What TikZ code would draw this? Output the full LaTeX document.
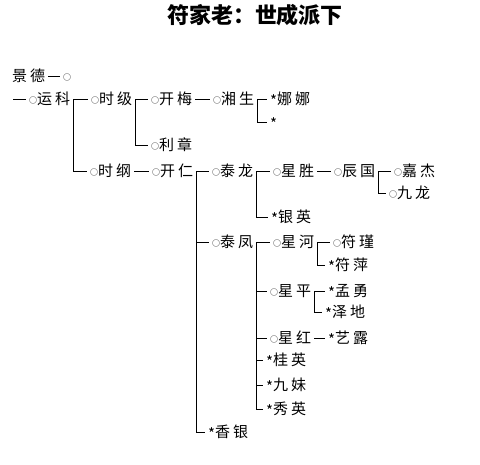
\documentclass[tikz,border=0pt]{standalone}
\usepackage{fontspec}
\newfontfamily\cjk[LetterSpace=20]{Noto Sans CJK SC}
\newfontfamily\cjktitle{Noto Sans CJK SC}
\newcommand{\quan}{\raisebox{1pt}{\fontsize{8}{8}\selectfont ○}}
\newcommand{\xing}{\raisebox{-2pt}{*}}
\begin{document}
\begin{tikzpicture}[x=1pt,y=-1pt]
\tikzstyle{every node}+=[inner xsep=3pt, inner ysep=0pt, text height=13pt, text depth=2pt, anchor=west, font=\cjk\fontsize{15}{15}\selectfont]
\useasboundingbox (0,0) rectangle (480,464);
\node [anchor=center, font=\cjktitle\bfseries\fontsize{22}{22}\selectfont] (title) at (255,18) {符家老：世成派下};
\node (jingde) at (9,76) {景德};
\node (jdring) at (60,76) {\quan};
\coordinate (start) at (13,99);
\node (yunke) at (26,99) {\quan 运科};
\node (shiji) at (88,99) {\quan 时级};
\node (kaimei) at (148,99) {\quan 开梅};
\node (xiangsheng) at (210,99) {\quan 湘生};
\node (nana) at (267,99) {\xing 娜娜};
\node (blank) at (267,122) {\xing};
\node (lizhang) at (148,145) {\quan 利章};
\node (shigang) at (87,171) {\quan 时纲};
\node (kairen) at (149,171) {\quan 开仁};
\node (tailong) at (209,171) {\quan 泰龙};
\node (xingsheng) at (270,171) {\quan 星胜};
\node (chenguo) at (331,171) {\quan 辰国};
\node (jiajie) at (391,171) {\quan 嘉杰};
\node (jiulong) at (386,193) {\quan 九龙};
\node (yinying) at (268,217) {\xing 银英};
\node (taifeng) at (209,242) {\quan 泰凤};
\node (xinghe) at (270,242) {\quan 星河};
\node (fujin) at (330,242) {\quan 符瑾};
\node (fuping) at (325,265) {\xing 符萍};
\node (xingping) at (267,291) {\quan 星平};
\node (mengyong) at (325,291) {\xing 孟勇};
\node (zedi) at (322,312) {\xing 泽地};
\node (xinghong) at (267,338) {\quan 星红};
\node (yilu) at (325,338) {\xing 艺露};
\node (guiying) at (263,360) {\xing 桂英};
\node (jiumei) at (263,385) {\xing 九妹};
\node (xiuying) at (263,409) {\xing 秀英};
\node (xiangyin) at (205,432) {\xing 香银};
% branches
\draw [black, line width=0.8pt] (jingde) -- (jdring);
\draw [black, line width=0.8pt] (start) -- (yunke);
\draw [black, line width=0.8pt] (yunke) -- (shiji);
\draw [black, line width=0.8pt] (yunke.east) |- (shigang);
\draw [black, line width=0.8pt] (shiji) -- (kaimei);
\draw [black, line width=0.8pt] (shiji.east) |- (lizhang);
\draw [black, line width=0.8pt] (kaimei) -- (xiangsheng);
\draw [black, line width=0.8pt] (xiangsheng) -- (nana);
\draw [black, line width=0.8pt] (xiangsheng.east) |- (blank);
\draw [black, line width=0.8pt] (shigang) -- (kairen);
\draw [black, line width=0.8pt] (kairen) -- (tailong);
\draw [black, line width=0.8pt] (kairen.east) |- (taifeng);
\draw [black, line width=0.8pt] (kairen.east) |- (xiangyin);
\draw [black, line width=0.8pt] (tailong) -- (xingsheng);
\draw [black, line width=0.8pt] (tailong.east) |- (yinying);
\draw [black, line width=0.8pt] (xingsheng) -- (chenguo);
\draw [black, line width=0.8pt] (chenguo) -- (jiajie);
\draw [black, line width=0.8pt] (chenguo.east) |- (jiulong);
\draw [black, line width=0.8pt] (taifeng) -- (xinghe);
\draw [black, line width=0.8pt] (taifeng.east) |- (xingping);
\draw [black, line width=0.8pt] (taifeng.east) |- (xinghong);
\draw [black, line width=0.8pt] (taifeng.east) |- (guiying);
\draw [black, line width=0.8pt] (taifeng.east) |- (jiumei);
\draw [black, line width=0.8pt] (taifeng.east) |- (xiuying);
\draw [black, line width=0.8pt] (xinghe) -- (fujin);
\draw [black, line width=0.8pt] (xinghe.east) |- (fuping);
\draw [black, line width=0.8pt] (xingping) -- (mengyong);
\draw [black, line width=0.8pt] (xingping.east) |- (zedi);
\draw [black, line width=0.8pt] (xinghong) -- (yilu);
\end{tikzpicture}
\end{document}
